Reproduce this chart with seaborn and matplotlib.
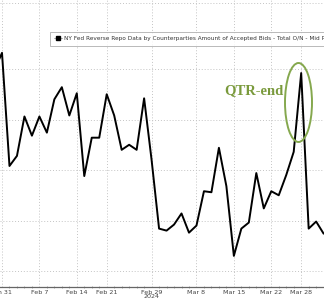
import numpy as np
import pandas as pd
import matplotlib
matplotlib.use("Agg")
import matplotlib.pyplot as plt
from matplotlib.patches import Ellipse
from matplotlib.lines import Line2D
import seaborn as sns

# ---- data (business days, Feb 19 holiday) ----
dates = pd.bdate_range("2024-01-30", "2024-04-02", freq="C", holidays=["2024-02-19"])
values = [89.9, 91.6, 80.4, 81.4, 85.3, 83.4, 85.3, 83.7, 87.0, 88.2, 85.4,
          87.6, 79.4, 83.2, 83.2, 87.5, 85.4, 82.0, 82.5, 82.0, 87.1,
          81.0, 74.2, 74.0, 74.6, 75.7, 73.8, 74.5, 77.9, 77.8, 82.2,
          78.4, 71.5, 74.2, 74.8, 79.7, 76.2, 77.9, 77.5, 79.5, 81.8,
          89.6, 74.2, 74.9, 73.7]
tick_dates = ["2024-01-31", "2024-02-07", "2024-02-14", "2024-02-21", "2024-02-29",
              "2024-03-08", "2024-03-15", "2024-03-22", "2024-03-28"]
tick_labels = ["Jan 31", "Feb 7", "Feb 14", "Feb 21", "Feb 29\n2024",
               "Mar 8", "Mar 15", "Mar 22", "Mar 28"]
series_name = "NY Fed Reverse Repo Data by Counterparties Amount of Accepted Bids - Total O/N - Mid Price"
annotation = "QTR-end"
grid_values = [70, 75, 80, 85, 90, 96.5]

df = pd.DataFrame({"date": dates, "value": values})
df["pos"] = np.arange(len(df))
pos_of = {d: p for d, p in zip(df["date"], df["pos"])}
tick_pos = [pos_of[pd.Timestamp(d)] for d in tick_dates]

sns.set_theme(style="white")
plt.rcParams["font.family"] = ["DejaVu Sans"]

fig = plt.figure(figsize=(3.24, 3.01), dpi=100)
ax = fig.add_axes([0, 14 / 301, 1, 287 / 301])

sns.lineplot(data=df, x="pos", y="value", ax=ax, color="black", linewidth=1.4,
             legend=False)

ax.set_xlabel("")
ax.set_ylabel("")

ax.set_xticks(tick_pos)
ax.set_xticklabels(tick_labels, fontsize=4.6, color="#444444", linespacing=0.92)
ax.set_xticks(df["pos"], minor=True)
ax.set_yticks(grid_values)
ax.set_yticklabels([])
ax.set_xlim(0.733, 44.05)
ax.set_ylim(68.42, 96.83)
ax.tick_params(axis="y", length=0)
ax.tick_params(axis="x", which="major", length=2, width=0.6, color="#666666", pad=1.0,
               direction="inout")
ax.tick_params(axis="x", which="minor", length=1.5, width=0.5, color="#888888",
               direction="inout", bottom=True)

ax.grid(True, which="major", axis="both", color="#c4c4c4", linewidth=0.7,
        linestyle=(0, (1, 2)))
for s in ["top", "right", "left"]:
    ax.spines[s].set_visible(False)
ax.spines["bottom"].set_color("#666666")
ax.spines["bottom"].set_linewidth(0.9)

handle = Line2D([0], [0], color="#999999", lw=0.6, marker="s", markersize=3.2,
                markerfacecolor="black", markeredgecolor="black")
leg = ax.legend([handle], [series_name], loc="upper left",
                bbox_to_anchor=(50 / 324, 1 - 32 / 301), bbox_transform=fig.transFigure,
                fontsize=4.15, frameon=True, fancybox=False, handlelength=1.3,
                handletextpad=0.35, borderpad=0.75, borderaxespad=0)
leg.get_frame().set_edgecolor("#9a9a9a")
leg.get_frame().set_linewidth(0.6)
for t in leg.get_texts():
    t.set_color("#333333")

green = "#7a9a3c"
fig.text(224 / 324, 1 - 94 / 301, annotation, color=green, fontsize=10.5,
         fontweight="bold", family=["Liberation Serif", "DejaVu Serif"],
         ha="left", va="baseline")
ell = Ellipse((298.5 / 324, 1 - 102.5 / 301), 27 / 324, 79 / 301,
              transform=fig.transFigure, fill=False, edgecolor="#85a84e", linewidth=1.4)
fig.add_artist(ell)

fig.savefig("out.png", dpi=100)
